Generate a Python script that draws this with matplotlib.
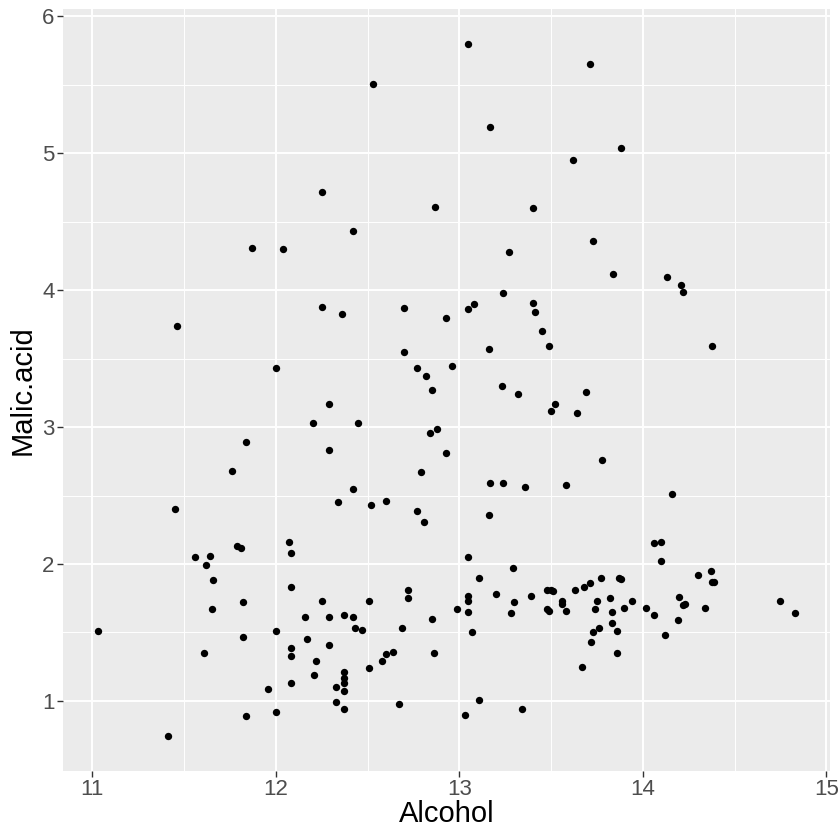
import numpy as np
import matplotlib
matplotlib.use("Agg")
import matplotlib.pyplot as plt

# wine data: Alcohol vs Malic.acid
alcohol = [14.23, 13.2, 13.16, 14.37, 13.24, 14.2, 14.39, 14.06, 14.83, 13.86,
           14.1, 14.12, 13.75, 14.75, 14.38, 13.63, 14.3, 13.83, 14.19, 13.64,
           14.06, 12.93, 13.71, 12.85, 13.5, 13.05, 13.39, 13.3, 13.87, 14.02,
           13.73, 13.58, 13.68, 13.76, 13.51, 13.48, 13.28, 13.05, 13.07, 14.22,
           13.56, 13.41, 13.88, 13.24, 13.05, 14.21, 14.38, 13.9, 14.1, 13.94,
           13.05, 13.83, 13.82, 13.77, 13.74, 13.56, 14.22, 13.29, 13.72,
           12.37, 12.33, 12.64, 13.67, 12.37, 12.17, 12.37, 13.11, 12.37, 13.34,
           12.21, 12.29, 13.86, 13.49, 12.99, 11.96, 11.66, 13.03, 11.84, 12.33,
           12.7, 12.0, 12.72, 12.08, 13.05, 11.84, 12.67, 12.16, 11.65, 11.64,
           12.08, 12.08, 12.0, 12.69, 12.29, 11.62, 12.47, 11.81, 12.29, 12.37,
           12.29, 12.08, 12.6, 12.34, 11.82, 12.51, 12.42, 12.25, 12.72, 12.22,
           11.61, 11.46, 12.52, 11.76, 11.41, 12.08, 11.03, 11.82, 12.42, 12.77,
           12.0, 11.45, 11.56, 12.42, 13.05, 11.87, 12.07, 12.43, 11.79, 12.37,
           12.04,
           12.86, 12.88, 12.81, 12.7, 12.51, 12.6, 12.25, 12.53, 13.49, 12.84,
           12.93, 13.36, 13.52, 13.62, 12.25, 13.16, 13.88, 12.87, 13.32, 13.08,
           13.5, 12.79, 13.11, 13.23, 12.58, 13.17, 13.84, 12.45, 14.34, 13.48,
           12.36, 13.69, 12.85, 12.96, 13.78, 13.73, 13.45, 12.82, 13.58, 13.4,
           12.2, 12.77, 14.16, 13.71, 13.4, 13.27, 13.17, 14.13]
malic_acid = [1.71, 1.78, 2.36, 1.95, 2.59, 1.76, 1.87, 2.15, 1.64, 1.35,
              2.16, 1.48, 1.73, 1.73, 1.87, 1.81, 1.92, 1.57, 1.59, 3.1,
              1.63, 3.8, 1.86, 1.6, 1.81, 2.05, 1.77, 1.72, 1.9, 1.68,
              1.5, 1.66, 1.83, 1.53, 1.8, 1.81, 1.64, 1.65, 1.5, 3.99,
              1.71, 3.84, 1.89, 3.98, 1.77, 4.04, 3.59, 1.68, 2.02, 1.73,
              1.73, 1.65, 1.75, 1.9, 1.67, 1.73, 1.7, 1.97, 1.43,
              0.94, 1.1, 1.36, 1.25, 1.13, 1.45, 1.21, 1.01, 1.17, 0.94,
              1.19, 1.61, 1.51, 1.66, 1.67, 1.09, 1.88, 0.9, 2.89, 0.99,
              3.87, 0.92, 1.81, 1.13, 3.86, 0.89, 0.98, 1.61, 1.67, 2.06,
              1.33, 1.83, 1.51, 1.53, 2.83, 1.99, 1.52, 2.12, 1.41, 1.07,
              3.17, 2.08, 1.34, 2.45, 1.72, 1.73, 2.55, 1.73, 1.75, 1.29,
              1.35, 3.74, 2.43, 2.68, 0.74, 1.39, 1.51, 1.47, 1.61, 3.43,
              3.43, 2.4, 2.05, 4.43, 5.8, 4.31, 2.16, 1.53, 2.13, 1.63,
              4.3,
              1.35, 2.99, 2.31, 3.55, 1.24, 2.46, 4.72, 5.51, 3.59, 2.96,
              2.81, 2.56, 3.17, 4.95, 3.88, 3.57, 5.04, 4.61, 3.24, 3.9,
              3.12, 2.67, 1.9, 3.3, 1.29, 5.19, 4.12, 3.03, 1.68, 1.67,
              3.83, 3.26, 3.27, 3.45, 2.76, 4.36, 3.7, 3.37, 2.58, 4.6,
              3.03, 2.39, 2.51, 5.65, 3.91, 4.28, 2.59, 4.1]

x_ticks = [11, 12, 13, 14, 15]
y_ticks = [1, 2, 3, 4, 5, 6]

plt.rcParams['font.family'] = ['Liberation Sans', 'DejaVu Sans']

fig = plt.figure(figsize=(8.4, 8.4), dpi=100)
ax = fig.add_axes([0.075, 0.082, 0.913, 0.907])
ax.set_facecolor('#EBEBEB')

# ggplot style expansion of 5%
xr = max(alcohol) - min(alcohol)
yr = max(malic_acid) - min(malic_acid)
ax.set_xlim(min(alcohol) - 0.05 * xr, max(alcohol) + 0.05 * xr)
ax.set_ylim(min(malic_acid) - 0.05 * yr, max(malic_acid) + 0.05 * yr)

ax.set_xticks(x_ticks)
ax.set_yticks(y_ticks)
ax.set_xticks([11.5, 12.5, 13.5, 14.5], minor=True)
ax.set_yticks([1.5, 2.5, 3.5, 4.5, 5.5], minor=True)
ax.grid(True, which='major', color='white', linewidth=1.4)
ax.grid(True, which='minor', color='white', linewidth=0.7)
ax.set_axisbelow(True)
for s in ax.spines.values():
    s.set_visible(False)

ax.tick_params(which='major', length=4, width=1, color='#333333',
               labelsize=16, labelcolor='#4D4D4D', pad=2)
ax.tick_params(which='minor', length=0)

ax.scatter(alcohol, malic_acid, s=28, color='black', linewidths=0, zorder=3)

ax.set_xlabel('Alcohol', fontsize=21, labelpad=0)
ax.set_ylabel('Malic.acid', fontsize=21, labelpad=4)

fig.savefig('out.png', dpi=100)
